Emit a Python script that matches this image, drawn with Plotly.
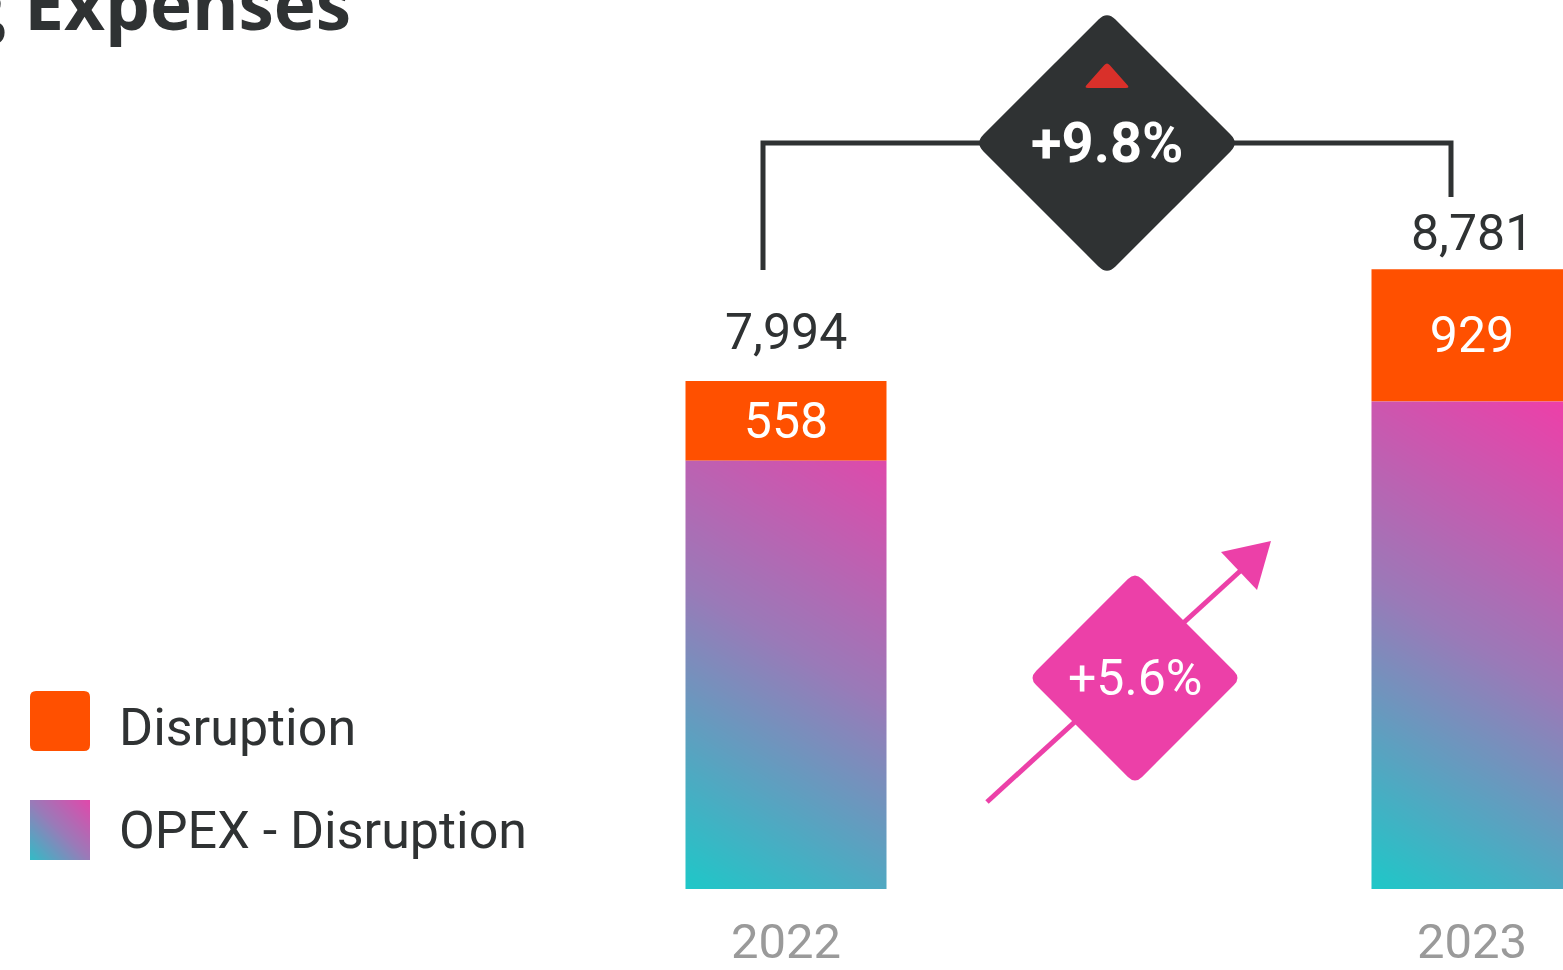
import numpy as np
import plotly.graph_objects as go

# data
years = ["2022", "2023"]
opex_ex_disruption = [7436, 7851]
disruption = [558, 929]
total_opex = [7994, 8781]
title_text = "Operating Expenses"
legend_labels = ["Disruption", "OPEX - Disruption"]

# colours
DARK = "#2f3233"
ORANGE = "#ff5000"
PINK = "#ec40a8"
RED = "#d9302a"
GREY = "#9a9a9a"
GRAD = [[0, "#1ec8c8"], [0.5, "#9a7ab8"], [1, "#ef3ea8"]]
FONT = "Roboto"

# geometry (page margin removed below, so figure px == page px)
W, H = 1563, 970
MB = 81
PLOT_H = H - MB
X_RANGE = [-786 / 686, (W - 786) / 686]
Y_RANGE = [4424, 4424 + PLOT_H / 0.1423]
PX_X = W / (X_RANGE[1] - X_RANGE[0])
PX_Y = PLOT_H / (Y_RANGE[1] - Y_RANGE[0])
BAR_W = 201 / PX_X


def xd(px):
    return X_RANGE[0] + px / PX_X


def yd(py):
    return Y_RANGE[0] + (PLOT_H - py) / PX_Y


def xp(px):
    return px / W


def yp(py):
    return (PLOT_H - py) / PLOT_H


def dy(px):
    return px / PX_Y


def rounded_path(pts, r):
    segs = []
    n = len(pts)
    for k in range(n):
        p, v, q = np.array(pts[k - 1], float), np.array(pts[k], float), np.array(pts[(k + 1) % n], float)
        a = v + (p - v) / np.linalg.norm(p - v) * r
        b = v + (q - v) / np.linalg.norm(q - v) * r
        segs.append((a, v, b))
    path = f"M{segs[0][0][0]:.2f},{segs[0][0][1]:.2f}"
    for i, (a, v, b) in enumerate(segs):
        if i > 0:
            path += f" L{a[0]:.2f},{a[1]:.2f}"
        path += f" Q{v[0]:.2f},{v[1]:.2f} {b[0]:.2f},{b[1]:.2f}"
    return path + " Z"


def pixel_shape(path, xa, ya, **kw):
    return dict(type="path", path=path, xref="x", yref="y", xsizemode="pixel", ysizemode="pixel",
                xanchor=xa, yanchor=ya, layer="above", **kw)


fig = go.Figure()

# gradient fill for the OPEX - Disruption bars
top = max(opex_ex_disruption)
for i, v in enumerate(opex_ex_disruption):
    xe = np.linspace(i - BAR_W / 2, i + BAR_W / 2, 41)
    ye = np.linspace(Y_RANGE[0], v, 121)
    xc = (xe[:-1] + xe[1:]) / 2
    yc = (ye[:-1] + ye[1:]) / 2
    u = (xc - xe[0]) / (xe[-1] - xe[0])
    w = (yc - Y_RANGE[0]) / (top - Y_RANGE[0])
    z = 0.2 * u[None, :] + 0.8 * w[:, None]
    fig.add_trace(go.Heatmap(x=xe, y=ye, z=z, colorscale=GRAD, zmin=0, zmax=1, zsmooth="best",
                             showscale=False, hoverinfo="skip"))

# legend swatch gradient
xe = np.linspace(xd(30), xd(90), 21)
ye = np.linspace(yd(860), yd(800), 21)
uu = np.linspace(0, 1, 20)
fig.add_trace(go.Heatmap(x=xe, y=ye, z=0.1 + 0.8 * (uu[None, :] + uu[:, None]) / 2, colorscale=GRAD,
                         zmin=0, zmax=1, zsmooth="best", showscale=False, hoverinfo="skip"))

fig.add_trace(go.Bar(
    x=[0, 1], y=opex_ex_disruption, width=BAR_W, name=legend_labels[1],
    marker=dict(color="rgba(0,0,0,0)", line_width=0),
    text=[f"{v:,}" for v in opex_ex_disruption], textposition="inside", insidetextanchor="middle",
    textfont=dict(family=FONT, size=50, color="white"), constraintext="none",
))
fig.add_trace(go.Bar(
    x=[0, 1], y=disruption, base=opex_ex_disruption, width=BAR_W, name=legend_labels[0],
    marker=dict(color=ORANGE, line_width=0),
    text=[f"{v:,}" for v in disruption], textposition="inside", insidetextanchor="middle",
    textfont=dict(family=FONT, size=50, color="white"), constraintext="none",
))

shapes = []
annotations = []

# total labels
for i, (t, shift) in enumerate(zip(total_opex, [49, 36])):
    annotations.append(dict(x=i, y=t, xref="x", yref="y", text=f"{t:,}", showarrow=False,
                            yanchor="middle", yshift=shift, font=dict(family=FONT, size=50, color=DARK)))

# bracket with total growth
xl = 0 - 23 / PX_X
xr = 1 - 21 / PX_X
y_top = max(total_opex) + dy(126)
shapes.append(dict(type="path", xref="x", yref="y", layer="above",
                   path=f"M{xl},{total_opex[0] + dy(111)} V{y_top} H{xr} V{total_opex[1] + dy(72)}",
                   line=dict(color=DARK, width=5)))
xm = (xl + xr) / 2
shapes.append(pixel_shape(rounded_path([(0, 132), (132, 0), (0, -132), (-132, 0)], 12), xm, y_top,
                          fillcolor=DARK, line_width=0))
shapes.append(pixel_shape(rounded_path([(0, 81), (23, 55), (-23, 55)], 4), xm, y_top,
                          fillcolor=RED, line_width=0))
total_growth = total_opex[1] / total_opex[0] - 1
annotations.append(dict(x=xm, y=y_top, xref="x", yref="y", text=f"<b>{total_growth:+.1%}</b>",
                        showarrow=False, yanchor="middle", font=dict(family=FONT, size=56, color="white")))

# opex growth arrow + diamond
xa, ya = xd(1135), yd(678)
shapes.append(pixel_shape("M-148,-124 L114,115", xa, ya, line=dict(color=PINK, width=5)))
shapes.append(pixel_shape("M86,126 L136,137 L122,88 Z", xa, ya, fillcolor=PINK, line_width=0))
shapes.append(pixel_shape(rounded_path([(0, 106), (106, 0), (0, -106), (-106, 0)], 10), xa, ya,
                          fillcolor=PINK, line_width=0))
opex_growth = opex_ex_disruption[1] / opex_ex_disruption[0] - 1
annotations.append(dict(x=xa, y=ya, xref="x", yref="y", text=f"{opex_growth:+.1%}", showarrow=False,
                        yanchor="middle", font=dict(family=FONT, size=50, color="white")))

# legend
shapes.append(pixel_shape(rounded_path([(-30, 30), (30, 30), (30, -30), (-30, -30)], 6), xd(60), yd(721),
                          fillcolor=ORANGE, line_width=0))
for label, py in zip(legend_labels, [727, 830]):
    annotations.append(dict(x=xp(117), y=yp(py), xref="paper", yref="paper", text=label,
                            showarrow=False, xanchor="left", yanchor="middle",
                            font=dict(family=FONT, size=52, color=DARK)))

# title (cropped at top-left)
annotations.append(dict(x=xp(353), y=yp(2), xref="paper", yref="paper",
                        text=f"<b>{title_text}</b>", showarrow=False, xanchor="right", yanchor="middle",
                        font=dict(family="Open Sans", size=71, color=DARK)))

fig.update_layout(
    width=W, height=H,
    margin=dict(l=0, r=0, t=0, b=MB),
    paper_bgcolor="white", plot_bgcolor="white",
    barmode="overlay", showlegend=False,
    shapes=shapes, annotations=annotations,
)
fig.update_xaxes(range=X_RANGE, tickvals=[0, 1], ticktext=years, showgrid=False, zeroline=False,
                 showline=False, ticks="", ticklabelstandoff=19,
                 tickfont=dict(family=FONT, size=49, color=GREY))
fig.update_yaxes(range=Y_RANGE, showgrid=False, zeroline=False, showticklabels=False, showline=False)

fig.write_html("out.html", config={"displayModeBar": False},
               post_script="document.body.style.margin = '0';")
